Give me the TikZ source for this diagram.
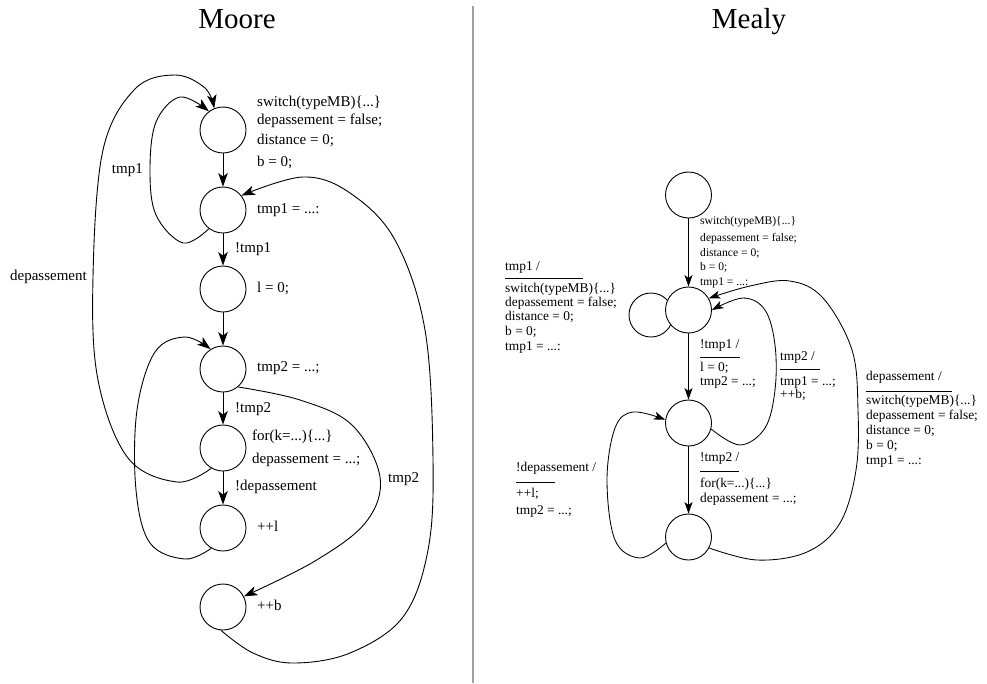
\documentclass[tikz,border=0pt]{standalone}
\usepackage{fontspec}
\setmainfont{Liberation Serif}
\usetikzlibrary{arrows.meta,backgrounds}
\begin{document}
\begin{tikzpicture}[x=1pt,y=-1pt,
  st/.style={circle,draw,line width=0.9pt,minimum size=46pt,inner sep=0pt,fill=white},
  ma/.style={-{Stealth[length=13.5pt,width=9.5pt,inset=3.5pt]},line width=0.9pt},
  ea/.style={-{Stealth[length=11.5pt,width=8pt,inset=3pt]},line width=0.85pt},
  lb/.style={inner sep=0pt,anchor=west,font=\fontsize{15}{18}\selectfont,text height=10.5pt,text depth=3pt},
  lbr/.style={lb,anchor=east},
  ml/.style={inner sep=0pt,anchor=west,font=\fontsize{13.4}{16}\selectfont,text height=9.4pt,text depth=2.7pt},
  sl/.style={inner sep=0pt,anchor=west,font=\fontsize{11.6}{14}\selectfont,text height=8.1pt,text depth=2.3pt},
  ttl/.style={inner sep=0pt,anchor=base,font=\fontsize{29}{34}\selectfont},
  rulel/.style={line width=0.8pt},
  sm/.style={smooth,tension=0.6}
]
\useasboundingbox (0,0) rectangle (987,683);

% titles and divider
\node[ttl] (tmoore) at (237,28) {Moore};
\node[ttl] (tmealy) at (749,28) {Mealy};
\draw[gray!75,line width=1.3pt] (473,6) -- (473,683);

% ---------------- Moore ----------------
\node[st] (c1) at (223,130) {};
\node[st] (c2) at (223,210) {};
\node[st] (c3) at (223,289) {};
\node[st] (c4) at (223,369) {};
\node[st] (c5) at (223,448) {};
\node[st] (c6) at (223,528) {};
\node[st] (c7) at (223,607) {};

\draw[ma] (c1) -- (c2);
\draw[ma] (c2) -- (c3);
\draw[ma] (c3) -- (c4);
\draw[ma] (c4) -- (c5);
\draw[ma] (c5) -- (c6);

\draw[ma] plot[sm] coordinates {(c2.233) (183,243) (156,215) (150,170) (156,122) (180,97) (c1.127)};
\draw[ma] plot[sm] coordinates {(c5.240) (177,482) (128,458) (98,380) (93,277) (103,150) (135,89) (175,75) (205,88) (c1.112)};
\draw[ma] plot[sm] coordinates {(c6.240) (185,559) (150,543) (136,490) (137,410) (155,352) (185,337) (c4.122)};
\draw[ma] plot[sm] coordinates {(c4.-50) (300,400) (352,425) (380,477) (366,522) (315,561) (c7.27)};
\draw[ma] plot[sm] coordinates {(c7.-95) (253,653) (293,663) (350,653) (403,617) (428,550) (433,460) (425,330) (395,240) (350,193) (303,177) (c2.38)};

\node[lb] (a1) at (257,103) {switch(typeMB)\{...\}};
\node[lb] (a2) at (257,121) {depassement = false;};
\node[lb] (a3) at (257,141) {distance = 0;};
\node[lb] (a4) at (257,163) {b = 0;};
\node[lb] (a5) at (257,210) {tmp1 = ...:};
\node[lb] (a6) at (235,249) {!tmp1};
\node[lb] (a7) at (257,289) {l = 0;};
\node[lb] (a8) at (257,368) {tmp2 = ...;};
\node[lb] (a9) at (235,409) {!tmp2};
\node[lb] (a10) at (252,437) {for(k=...)\{...\}};
\node[lb] (a11) at (252,460) {depassement = ...;};
\node[lb] (a12) at (235,487) {!depassement};
\node[lb] (a13) at (257,528) {++l};
\node[lb] (a14) at (257,607) {++b};
\node[lbr] (a15) at (143,170) {tmp1};
\node[lbr] (a16) at (87,277) {depassement};
\node[lb] (a17) at (388,479) {tmp2};

% ---------------- Mealy ----------------
\begin{scope}[on background layer]
\draw[line width=0.9pt] (651,315) circle[radius=22];
\end{scope}
\node[st] (m1) at (688.5,195) {};
\node[st] (m2) at (688.5,310) {};
\node[st] (m3) at (688.5,423) {};
\node[st] (m4) at (688.5,537) {};

\draw[ea] (m1) -- (m2);
\draw[ea] (m2) -- (m3);
\draw[ea] (m3) -- (m4);

\draw[ea] plot[sm] coordinates {(m4.195) (640,558) (615,540) (607,480) (615,428) (633,412) (m3.172)};
\draw[ea] plot[sm] coordinates {(m3.-15) (740,445) (765,428) (775,390) (775,345) (765,310) (743,298) (m2.0)};
\draw[ea] plot[sm] coordinates {(m4.-28) (757,560) (807,552) (840,523) (856,470) (858,410) (852,350) (823,298) (790,281) (750,286) (m2.30)};

% first edge label
\node[sl] (b1) at (700,222) {switch(typeMB)\{...\}};
\node[sl] (b2) at (700,239) {depassement = false;};
\node[sl] (b3) at (700,254) {distance = 0;};
\node[sl] (b4) at (700,268) {b = 0;};
\node[sl] (b5) at (700,283) {tmp1 = ...:};

% self loop label
\node[ml] (d1) at (505,267) {tmp1 /};
\draw[rulel] (505,278) -- (583,278);
\node[ml] (d2) at (505,289) {switch(typeMB)\{...\}};
\node[ml] (d3) at (505,303) {depassement = false;};
\node[ml] (d4) at (505,317) {distance = 0;};
\node[ml] (d5) at (505,332) {b = 0;};
\node[ml] (d6) at (505,347) {tmp1 = ...:};

% !tmp1 label
\node[ml] (e1) at (700,345) {!tmp1 /};
\draw[rulel] (700,357) -- (740,357);
\node[ml] (e2) at (700,368) {l = 0;};
\node[ml] (e3) at (700,382) {tmp2 = ...;};

% tmp2 label
\node[ml] (f1) at (780,357) {tmp2 /};
\draw[rulel] (780,369) -- (820,369);
\node[ml] (f2) at (780,382) {tmp1 = ...;};
\node[ml] (f3) at (780,395) {++b;};

% depassement label
\node[ml] (g1) at (866,377) {depassement /};
\draw[rulel] (866,391) -- (952,391);
\node[ml] (g2) at (866,401) {switch(typeMB)\{...\}};
\node[ml] (g3) at (866,416) {depassement = false;};
\node[ml] (g4) at (866,431) {distance = 0;};
\node[ml] (g5) at (866,446) {b = 0;};
\node[ml] (g6) at (866,461) {tmp1 = ...:};

% !tmp2 label
\node[ml] (h1) at (700,458) {!tmp2 /};
\draw[rulel] (700,471) -- (739,471);
\node[ml] (h2) at (700,484) {for(k=...)\{...\}};
\node[ml] (h3) at (700,499) {depassement = ...;};

% !depassement label
\node[ml] (k1) at (516,468) {!depassement /};
\draw[rulel] (516,482) -- (555,482);
\node[ml] (k2) at (516,494) {++l;};
\node[ml] (k3) at (516,511) {tmp2 = ...;};
\end{tikzpicture}
\end{document}
